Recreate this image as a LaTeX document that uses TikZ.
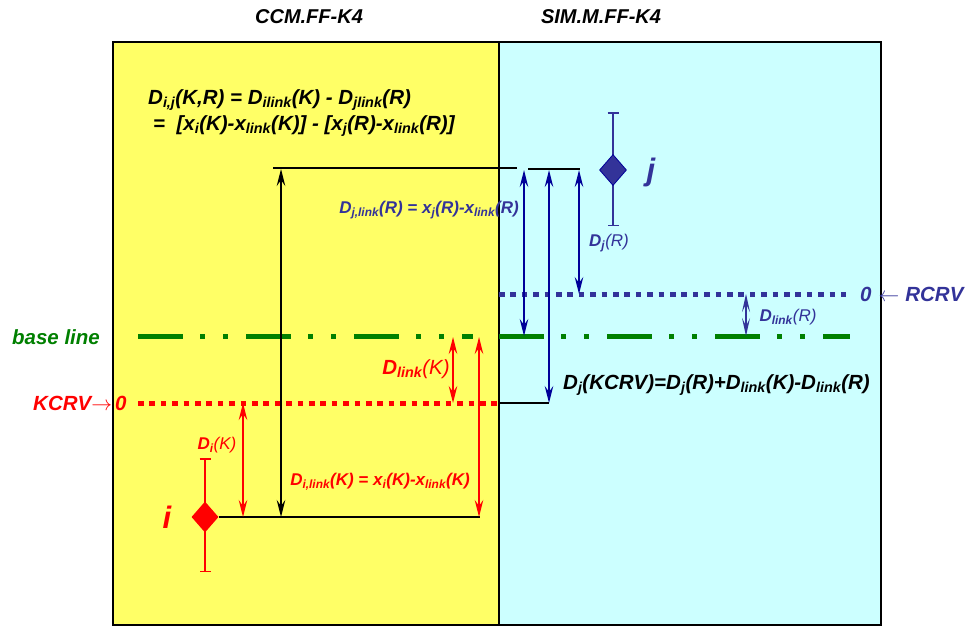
\documentclass[tikz,border=0pt]{standalone}
\usepackage{fontspec}
\setmainfont{Liberation Sans}
\usetikzlibrary{arrows.meta,shapes.geometric}

\definecolor{panelY}{RGB}{255,255,102}
\definecolor{panelC}{RGB}{204,255,255}
\definecolor{kred}{RGB}{255,0,0}
\definecolor{rblue}{RGB}{51,51,153}
\definecolor{navy}{RGB}{0,0,153}
\definecolor{bgreen}{RGB}{0,128,0}

% subscript in the current text font
\newcommand\lo[1]{\textsubscript{#1}}
% medium weight for the bracketed part of short labels
\newcommand\md[1]{{\mdseries #1}}

\tikzset{
  lbl/.style={inner sep=0pt, font=\fontsize{20.5}{24}\selectfont\bfseries\itshape},
  small/.style={inner sep=0pt, font=\fontsize{17}{20}\selectfont\bfseries\itshape},
  title/.style={inner sep=0pt, font=\fontsize{20}{24}\selectfont\bfseries\itshape},
  big/.style={inner sep=0pt, font=\fontsize{31}{34}\selectfont\bfseries\itshape},
  dbl/.style={{Stealth[length=17pt,width=8.5pt,inset=6pt]}-{Stealth[length=17pt,width=8.5pt,inset=6pt]}, line width=1.8pt},
  tinydbl/.style={{Stealth[length=18pt,width=8pt,inset=8pt]}-{Stealth[length=18pt,width=8pt,inset=8pt]}, line width=1.5pt},
  errbar/.style={line width=1.5pt, {Bar[width=11pt]}-{Bar[width=11pt]}},
  lead/.style={line width=1.5pt, black},
  baseln/.style={bgreen, line width=5pt,
    dash pattern=on 45pt off 17pt on 5pt off 18pt on 5pt off 18pt},
  dotln/.style={line width=5pt, dash pattern=on 5.5pt off 5.9pt},
  resultmark/.style={diamond, inner sep=0pt, minimum width=27pt, minimum height=31pt}
}

\begin{document}
\begin{tikzpicture}[x=1pt,y=-1pt]
\useasboundingbox (0,0) rectangle (971,627);
\fill[white] (0,0) rectangle (971,627);

% the two laboratories' panels
\filldraw[fill=panelY, draw=black, line width=1.5pt] (113,42) rectangle (499,625);
\filldraw[fill=panelC, draw=black, line width=1.5pt] (499,42) rectangle (881,625);

\node[title] (tK) at (309,17) {CCM.FF-K4};
\node[title] (tR) at (601,17) {SIM.M.FF-K4};

% defining formula
\node[lbl, anchor=west] (f1) at (148,100)
  {D\lo{i,j}(K,R) = D\lo{ilink}(K) - D\lo{jlink}(R)};
\node[lbl, anchor=west] (f2) at (153,126)
  {=\ \ [x\lo{i}(K)-x\lo{link}(K)] - [x\lo{j}(R)-x\lo{link}(R)]};

% reference levels
\coordinate (bl1) at (138,336);  \coordinate (bl2) at (473,336);
\coordinate (bl3) at (499,336);  \coordinate (bl4) at (850,336);
\draw[baseln] (bl1) -- (bl2);
\draw[baseln] (bl3) -- (bl4);
\coordinate (kc1) at (138,403);  \coordinate (kc2) at (498,403);
\draw[dotln, kred] (kc1) -- (kc2);
\coordinate (rc1) at (499,294);  \coordinate (rc2) at (846,294);
\draw[dotln, rblue] (rc1) -- (rc2);

\node[lbl, text=bgreen] (blab) at (56,337) {base line};
\node[lbl, text=kred, anchor=west] (klab) at (33,403)
  {KCRV{\mdseries$\rightarrow$}\kern3pt 0};
\node[lbl, text=rblue, anchor=west] (rlab) at (860,294)
  {0\kern7pt{\mdseries$\leftarrow$}\kern6pt RCRV};

% result i with its uncertainty
\coordinate (ei1) at (205,458);  \coordinate (ei2) at (205,572);
\draw[errbar, kred] (ei1) -- (ei2);
\node[resultmark, fill=kred] (di) at (205,517) {};
\node[big, text=kred] (ilab) at (167,517) {i};

% result j with its uncertainty
\coordinate (ej1) at (613,112);  \coordinate (ej2) at (613,226);
\draw[errbar, rblue] (ej1) -- (ej2);
\node[resultmark, fill=rblue, draw=navy, line width=0.8pt] (dj) at (613,170) {};
\node[big, text=rblue] (jlab) at (651,172) {j};

% leader lines
\coordinate (la) at (273,168);  \coordinate (lb) at (517,168);
\coordinate (lc) at (528,169);  \coordinate (ld) at (580,169);
\coordinate (le) at (480,517);
\coordinate (lf) at (499,403);  \coordinate (lg) at (549,403);
\draw[lead] (la) -- (lb);
\draw[lead] (lc) -- (ld);
\draw[lead] (di.east) -- (le);
\draw[lead] (lf) -- (lg);

% black difference arrow
\coordinate (a1) at (281,169);  \coordinate (a2) at (281,517);
\draw[dbl, black] (a1) -- (a2);

% red arrows
\coordinate (r1) at (243,403);  \coordinate (r2) at (243,517);
\coordinate (r3) at (453,337);  \coordinate (r4) at (453,403);
\coordinate (r5) at (479,337);  \coordinate (r6) at (479,517);
\draw[dbl, kred] (r1) -- (r2);
\draw[dbl, kred] (r3) -- (r4);
\draw[dbl, kred] (r5) -- (r6);

% blue arrows
\coordinate (b1) at (524,170);  \coordinate (b2) at (524,336);
\coordinate (b3) at (549,170);  \coordinate (b4) at (549,403);
\coordinate (b5) at (579,170);  \coordinate (b6) at (579,294);
\coordinate (b7) at (746,294);  \coordinate (b8) at (746,336);
\draw[dbl, navy] (b1) -- (b2);
\draw[dbl, navy] (b3) -- (b4);
\draw[dbl, navy] (b5) -- (b6);
\draw[tinydbl, rblue] (b7) -- (b8);

% labels
\node[small, text=kred] (diK) at (217,445) {D\lo{i}\md{(K)}};
\node[small, text=kred] (dilK) at (380,482) {D\lo{i,link}(K) = x\lo{i}(K)-x\lo{link}(K)};
\node[lbl, text=kred] (dlK) at (416,369) {D\lo{link}\md{(K)}};
\node[small, text=rblue] (djlR) at (429,210) {D\lo{j,link}(R) = x\lo{j}(R)-x\lo{link}(R)};
\node[small, text=rblue] (djR) at (609,243) {D\lo{j}\md{(R)}};
\node[small, text=rblue] (dlR) at (788,317) {D\lo{link}\md{(R)}};
\node[lbl, anchor=west] (res) at (563,385) {D\lo{j}(KCRV)=D\lo{j}(R)+D\lo{link}(K)-D\lo{link}(R)};
\end{tikzpicture}
\end{document}
